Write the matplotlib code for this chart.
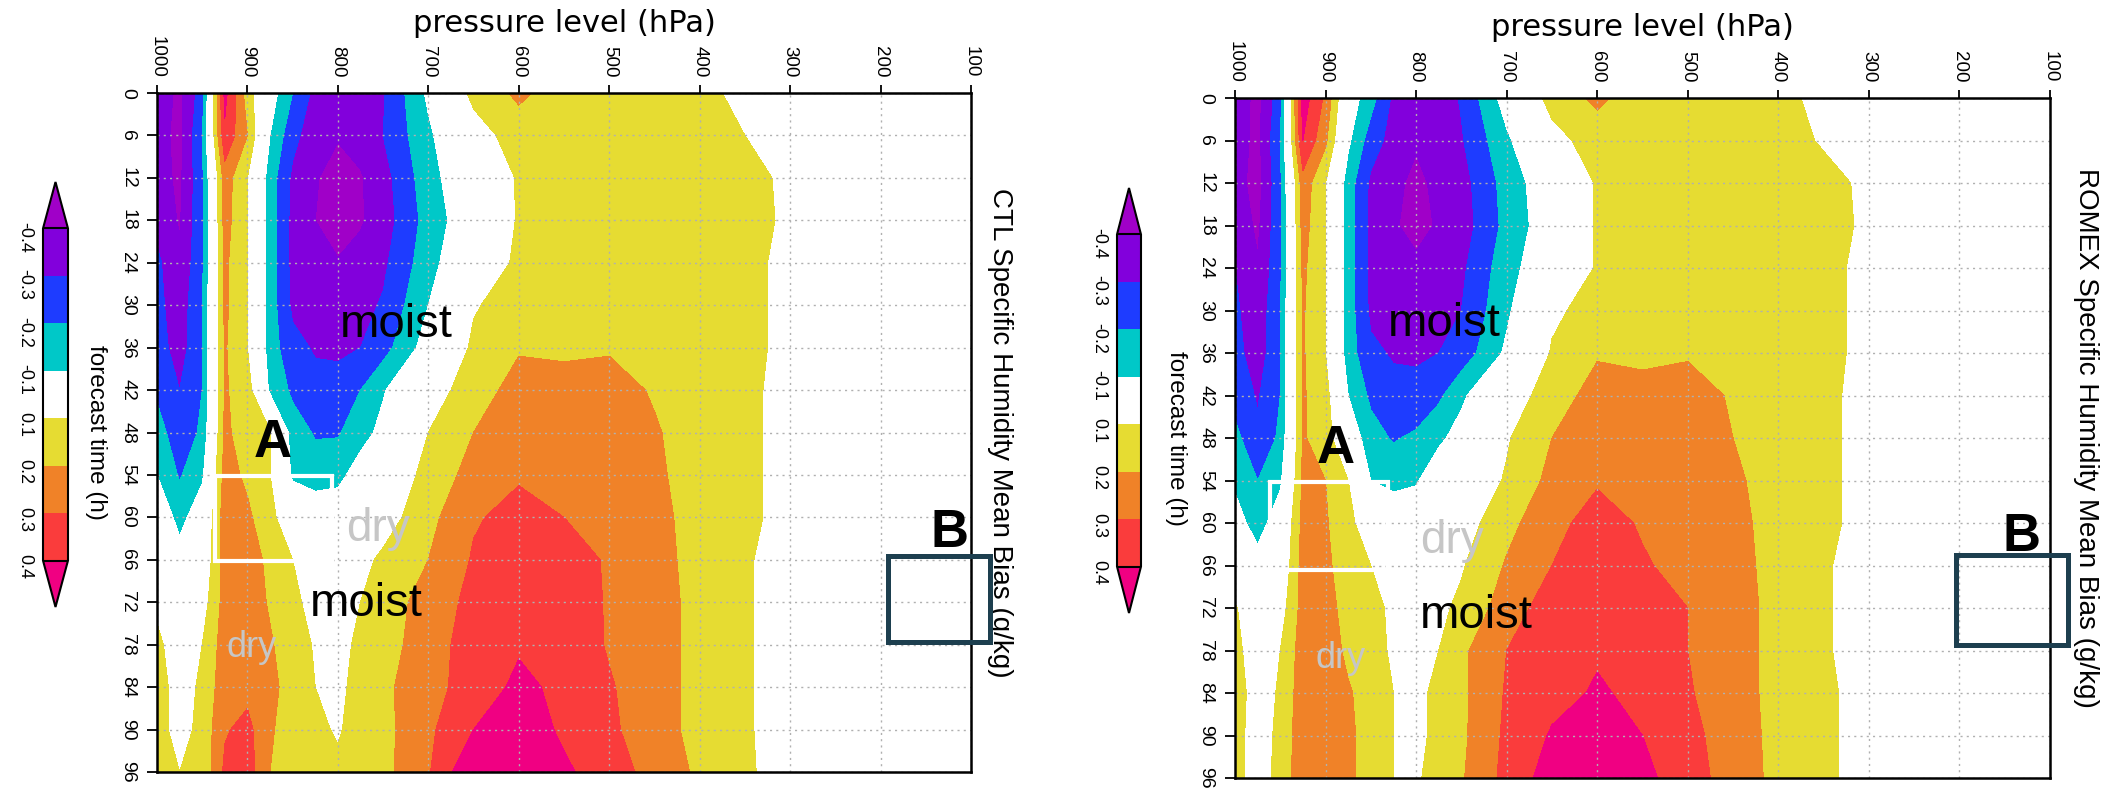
import matplotlib
matplotlib.use('Agg')
import matplotlib.pyplot as plt
import numpy as np
from matplotlib.patches import Rectangle

plt.rcParams['font.family'] = ['Liberation Sans', 'DejaVu Sans']

# pressure levels (hPa) and forecast hours of the grid
levels_hpa = [1000, 975, 950, 925, 900, 875, 850, 825, 800, 775, 750, 700,
              650, 600, 550, 500, 450, 400, 350, 300, 250, 200, 150, 100]
fc_hours = [0, 6, 12, 18, 24, 30, 36, 42, 48, 54, 60, 66, 72, 78, 84, 90, 96]

# specific humidity mean bias (g/kg), one row per forecast hour, one column per level
ctl_bias = [
    [-0.35, -0.42, -0.25, 0.43, 0.15, -0.05, -0.20, -0.33, -0.38, -0.36, -0.31, -0.08, 0.13, 0.22, 0.15, 0.14, 0.14, 0.12, 0.08, 0.03, 0.01, 0.00, 0.00, 0.00],
    [-0.36, -0.43, -0.20, 0.38, 0.20, -0.10, -0.27, -0.36, -0.39, -0.36, -0.30, -0.12, 0.05, 0.15, 0.13, 0.13, 0.14, 0.13, 0.10, 0.04, 0.01, 0.00, 0.00, 0.00],
    [-0.36, -0.42, -0.22, 0.25, 0.10, -0.15, -0.32, -0.39, -0.45, -0.41, -0.34, -0.14, 0.00, 0.11, 0.14, 0.14, 0.14, 0.14, 0.13, 0.08, 0.02, 0.00, 0.00, 0.00],
    [-0.33, -0.41, -0.22, 0.24, 0.10, -0.15, -0.33, -0.40, -0.47, -0.41, -0.35, -0.16, -0.02, 0.11, 0.14, 0.14, 0.14, 0.14, 0.14, 0.08, 0.02, 0.00, 0.00, 0.00],
    [-0.28, -0.38, -0.22, 0.22, 0.10, -0.15, -0.33, -0.38, -0.39, -0.37, -0.32, -0.14, 0.02, 0.12, 0.14, 0.14, 0.14, 0.14, 0.13, 0.07, 0.02, 0.00, 0.00, 0.00],
    [-0.27, -0.36, -0.20, 0.22, 0.10, -0.15, -0.32, -0.36, -0.37, -0.33, -0.29, -0.10, 0.09, 0.15, 0.15, 0.15, 0.14, 0.14, 0.13, 0.07, 0.02, 0.00, 0.00, 0.00],
    [-0.25, -0.35, -0.20, 0.21, 0.10, -0.15, -0.27, -0.31, -0.31, -0.30, -0.24, -0.05, 0.12, 0.19, 0.18, 0.19, 0.16, 0.14, 0.13, 0.07, 0.02, 0.00, 0.00, 0.00],
    [-0.22, -0.30, -0.20, 0.21, 0.15, -0.12, -0.22, -0.27, -0.28, -0.20, -0.11, 0.05, 0.15, 0.24, 0.24, 0.24, 0.19, 0.14, 0.12, 0.07, 0.02, 0.00, 0.00, 0.00],
    [-0.15, -0.27, -0.18, 0.22, 0.15, 0.11, -0.15, -0.21, -0.21, -0.14, -0.07, 0.10, 0.20, 0.27, 0.27, 0.26, 0.21, 0.15, 0.12, 0.07, 0.02, 0.00, 0.00, 0.00],
    [-0.10, -0.21, -0.12, 0.24, 0.18, 0.10, -0.12, -0.15, -0.13, -0.05, 0.02, 0.13, 0.24, 0.29, 0.28, 0.27, 0.22, 0.15, 0.12, 0.07, 0.02, 0.00, 0.00, 0.00],
    [0.00, -0.14, -0.02, 0.25, 0.22, 0.13, 0.02, -0.02, -0.03, 0.00, 0.05, 0.17, 0.29, 0.33, 0.30, 0.28, 0.23, 0.16, 0.12, 0.07, 0.02, 0.00, 0.00, 0.00],
    [0.03, -0.05, 0.00, 0.25, 0.24, 0.18, 0.10, 0.03, 0.00, 0.07, 0.12, 0.20, 0.31, 0.36, 0.34, 0.29, 0.23, 0.17, 0.11, 0.06, 0.02, 0.00, 0.00, 0.00],
    [0.08, 0.00, 0.05, 0.24, 0.25, 0.19, 0.12, 0.07, 0.05, 0.10, 0.15, 0.24, 0.33, 0.37, 0.36, 0.29, 0.24, 0.17, 0.11, 0.06, 0.02, 0.00, 0.00, 0.00],
    [0.12, 0.05, 0.10, 0.25, 0.25, 0.21, 0.15, 0.09, 0.07, 0.12, 0.16, 0.25, 0.35, 0.39, 0.37, 0.29, 0.24, 0.17, 0.11, 0.06, 0.02, 0.00, 0.00, 0.00],
    [0.15, 0.05, 0.12, 0.26, 0.27, 0.22, 0.17, 0.10, 0.08, 0.13, 0.18, 0.26, 0.35, 0.42, 0.38, 0.31, 0.24, 0.17, 0.11, 0.06, 0.02, 0.00, 0.00, 0.00],
    [0.14, 0.06, 0.13, 0.29, 0.33, 0.21, 0.16, 0.12, 0.09, 0.14, 0.17, 0.28, 0.40, 0.47, 0.38, 0.32, 0.24, 0.17, 0.11, 0.06, 0.02, 0.00, 0.00, 0.00],
    [0.12, 0.10, 0.12, 0.32, 0.35, 0.20, 0.15, 0.13, 0.12, 0.14, 0.17, 0.29, 0.50, 0.50, 0.42, 0.34, 0.27, 0.18, 0.11, 0.07, 0.02, 0.00, 0.00, 0.00],
]

romex_bias = [
    [-0.34, -0.43, -0.24, 0.45, 0.28, -0.04, -0.16, -0.32, -0.38, -0.36, -0.29, -0.05, 0.14, 0.22, 0.15, 0.14, 0.14, 0.12, 0.08, 0.03, 0.01, 0.00, 0.00, 0.00],
    [-0.35, -0.43, -0.20, 0.40, 0.22, -0.08, -0.25, -0.34, -0.39, -0.36, -0.31, -0.12, 0.06, 0.15, 0.13, 0.13, 0.14, 0.14, 0.09, 0.05, 0.01, 0.00, 0.00, 0.00],
    [-0.36, -0.44, -0.22, 0.26, 0.10, -0.15, -0.32, -0.38, -0.42, -0.38, -0.34, -0.16, -0.02, 0.11, 0.14, 0.14, 0.14, 0.14, 0.13, 0.08, 0.02, 0.00, 0.00, 0.00],
    [-0.33, -0.42, -0.22, 0.24, 0.10, -0.15, -0.33, -0.39, -0.43, -0.39, -0.35, -0.17, -0.03, 0.11, 0.14, 0.14, 0.14, 0.14, 0.14, 0.08, 0.02, 0.00, 0.00, 0.00],
    [-0.30, -0.39, -0.22, 0.22, 0.10, -0.15, -0.33, -0.37, -0.38, -0.37, -0.32, -0.14, -0.01, 0.11, 0.14, 0.14, 0.14, 0.14, 0.13, 0.07, 0.02, 0.00, 0.00, 0.00],
    [-0.28, -0.37, -0.20, 0.21, 0.10, -0.15, -0.32, -0.36, -0.37, -0.34, -0.30, -0.12, 0.08, 0.14, 0.15, 0.15, 0.14, 0.14, 0.13, 0.07, 0.02, 0.00, 0.00, 0.00],
    [-0.26, -0.36, -0.20, 0.21, 0.10, -0.15, -0.28, -0.31, -0.31, -0.30, -0.26, -0.08, 0.11, 0.19, 0.18, 0.19, 0.16, 0.14, 0.13, 0.07, 0.02, 0.00, 0.00, 0.00],
    [-0.24, -0.31, -0.20, 0.21, 0.14, -0.10, -0.22, -0.27, -0.28, -0.22, -0.12, 0.04, 0.15, 0.24, 0.23, 0.24, 0.19, 0.14, 0.12, 0.07, 0.02, 0.00, 0.00, 0.00],
    [-0.17, -0.28, -0.18, 0.21, 0.15, -0.02, -0.16, -0.21, -0.18, -0.12, -0.06, 0.09, 0.20, 0.27, 0.26, 0.26, 0.20, 0.15, 0.12, 0.07, 0.02, 0.00, 0.00, 0.00],
    [-0.12, -0.20, -0.12, 0.22, 0.20, 0.10, -0.10, -0.13, -0.11, -0.03, 0.02, 0.11, 0.23, 0.29, 0.27, 0.27, 0.22, 0.15, 0.12, 0.07, 0.02, 0.00, 0.00, 0.00],
    [-0.05, -0.15, -0.03, 0.23, 0.21, 0.13, 0.03, -0.02, -0.03, 0.00, 0.05, 0.17, 0.27, 0.34, 0.29, 0.28, 0.23, 0.16, 0.12, 0.07, 0.02, 0.00, 0.00, 0.00],
    [0.00, -0.05, 0.00, 0.24, 0.22, 0.15, 0.10, 0.04, 0.02, 0.05, 0.09, 0.21, 0.30, 0.36, 0.31, 0.27, 0.23, 0.17, 0.11, 0.06, 0.02, 0.00, 0.00, 0.00],
    [0.11, 0.02, 0.05, 0.24, 0.24, 0.16, 0.13, 0.08, 0.05, 0.08, 0.12, 0.25, 0.35, 0.37, 0.35, 0.30, 0.24, 0.17, 0.11, 0.06, 0.02, 0.00, 0.00, 0.00],
    [0.12, 0.06, 0.10, 0.25, 0.25, 0.18, 0.15, 0.08, 0.06, 0.10, 0.18, 0.30, 0.36, 0.39, 0.37, 0.30, 0.24, 0.17, 0.11, 0.06, 0.02, 0.00, 0.00, 0.00],
    [0.14, 0.06, 0.11, 0.26, 0.27, 0.21, 0.16, 0.10, 0.08, 0.12, 0.18, 0.31, 0.37, 0.41, 0.38, 0.31, 0.24, 0.17, 0.12, 0.06, 0.02, 0.00, 0.00, 0.00],
    [0.13, 0.06, 0.12, 0.27, 0.27, 0.22, 0.16, 0.10, 0.08, 0.12, 0.18, 0.32, 0.41, 0.46, 0.40, 0.33, 0.25, 0.17, 0.12, 0.06, 0.02, 0.00, 0.00, 0.00],
    [0.12, 0.07, 0.12, 0.28, 0.28, 0.22, 0.16, 0.10, 0.09, 0.13, 0.19, 0.33, 0.45, 0.50, 0.43, 0.34, 0.26, 0.17, 0.12, 0.06, 0.02, 0.00, 0.00, 0.00],
]

bias_levels = [-0.4, -0.3, -0.2, -0.1, 0.1, 0.2, 0.3, 0.4]
bias_colors = ['#a000c8', '#8200dc', '#1e3cff', '#00c8c8', '#ffffff',
               '#e6dc32', '#f08228', '#fa3c3c', '#f00082']
cbar_labels = ['-0.4', '-0.3', '-0.2', '-0.1', '0.1', '0.2', '0.3', '0.4']
p_ticks = [1000, 900, 800, 700, 600, 500, 400, 300, 200, 100]
p_ticklabels = ['1000', '900', '800', '700', '600', '500', '400', '300', '200', '100']
panel_titles = ['CTL Specific Humidity Mean Bias (g/kg)',
                'ROMEX Specific Humidity Mean Bias (g/kg)']

W, H = 2108, 788
fig = plt.figure(figsize=(W / 100, H / 100), dpi=100)


def box(x0, y0, x1, y1):
    # pixel box (top-left origin) -> figure fraction rect
    return [x0 / W, 1 - y1 / H, (x1 - x0) / W, (y1 - y0) / H]


def fpt(x, y):
    return x / W, 1 - y / H


def draw_panel(data, title, ax_px, cb_px, title_x, ylab_x, xlab_xy):
    ax = fig.add_axes(box(*ax_px))
    z = np.array(data)[:, ::-1]
    cf = ax.contourf(levels_hpa[::-1], fc_hours, z, levels=bias_levels,
                     colors=bias_colors, extend='both')
    ax.set_xlim(1000, 100)
    ax.set_ylim(96, 0)

    ax.xaxis.tick_top()
    ax.set_xticks(p_ticks)
    ax.set_xticklabels(p_ticklabels, rotation=270, fontsize=13.5)
    ax.set_yticks(fc_hours)
    ax.set_yticklabels([str(h) for h in fc_hours], rotation=270, fontsize=14, va='center')
    ax.tick_params(axis='x', direction='out', length=6, width=1.3, pad=5)
    ax.tick_params(axis='y', direction='out', length=7, width=1.3, pad=8)
    ax.grid(True, color='#b0b0b0', linestyle=(0, (1.5, 3)), linewidth=1.0)
    for s in ax.spines.values():
        s.set_linewidth(1.8)

    # colorbar, -0.4 on top like the rotated GrADS plot
    cax = fig.add_axes(box(*cb_px))
    cax.invert_yaxis()
    cb = fig.colorbar(cf, cax=cax, extendfrac=0.14, drawedges=True)
    cb.set_ticks(bias_levels, labels=cbar_labels)
    cax.yaxis.set_ticks_position('left')
    cax.tick_params(length=0, pad=7, labelsize=13, labelrotation=270)
    cb.outline.set_linewidth(1.5)
    cb.dividers.set_color('black')
    cb.dividers.set_linewidth(1.5)

    cy = (ax_px[1] + ax_px[3]) / 2
    fig.text(*fpt(title_x, cy), title, rotation=270, ha='center', va='center', fontsize=20)
    fig.text(*fpt(ylab_x, cy), 'forecast time (h)', rotation=270, ha='center', va='center', fontsize=17.5)
    fig.text(*fpt(*xlab_xy), 'pressure level (hPa)', ha='center', va='center',
             fontsize=22, family='DejaVu Sans')
    return ax


def note(x, y, s, size, color='black', bold=False):
    fig.text(*fpt(x, y), s, ha='center', va='baseline', fontsize=size, color=color,
             family='Liberation Sans', fontweight='bold' if bold else 'normal')


def frame(x0, y0, x1, y1, color, lw):
    r = Rectangle(fpt(x0, y1), (x1 - x0) / W, (y1 - y0) / H, transform=fig.transFigure,
                  fill=False, edgecolor=color, linewidth=lw, zorder=5)
    fig.add_artist(r)


draw_panel(ctl_bias, panel_titles[0], (157, 93, 971, 772), (43, 182, 68, 607),
           1000, 96, (564, 24))
draw_panel(romex_bias, panel_titles[1], (1235, 98, 2050, 778), (1117, 188, 1141, 613),
           2086, 1176, (1642, 27))

# hand-added annotations, left panel
note(396, 337, 'moist', 34)
note(366, 616, 'moist', 34)
note(273, 457, 'A', 38, bold=True)
note(378, 541, 'dry', 33, color='#c6c6c6')
note(252, 657, 'dry', 26, color='#c6c6c6')
note(950, 547, 'B', 38, bold=True)
frame(215, 476, 332, 561, 'white', 3)
frame(888, 556, 990, 642, '#1d3f4f', 3.6)

# right panel
note(1444, 336, 'moist', 34)
note(1476, 628, 'moist', 34)
note(1336, 463, 'A', 38, bold=True)
note(1452, 553, 'dry', 33, color='#c6c6c6')
note(1341, 668, 'dry', 26, color='#c6c6c6')
note(2021, 551, 'B', 38, bold=True)
frame(1270, 482, 1388, 570, 'white', 3)
frame(1956, 555, 2068, 645, '#1d3f4f', 3.6)

plt.savefig('out.png', dpi=100)
